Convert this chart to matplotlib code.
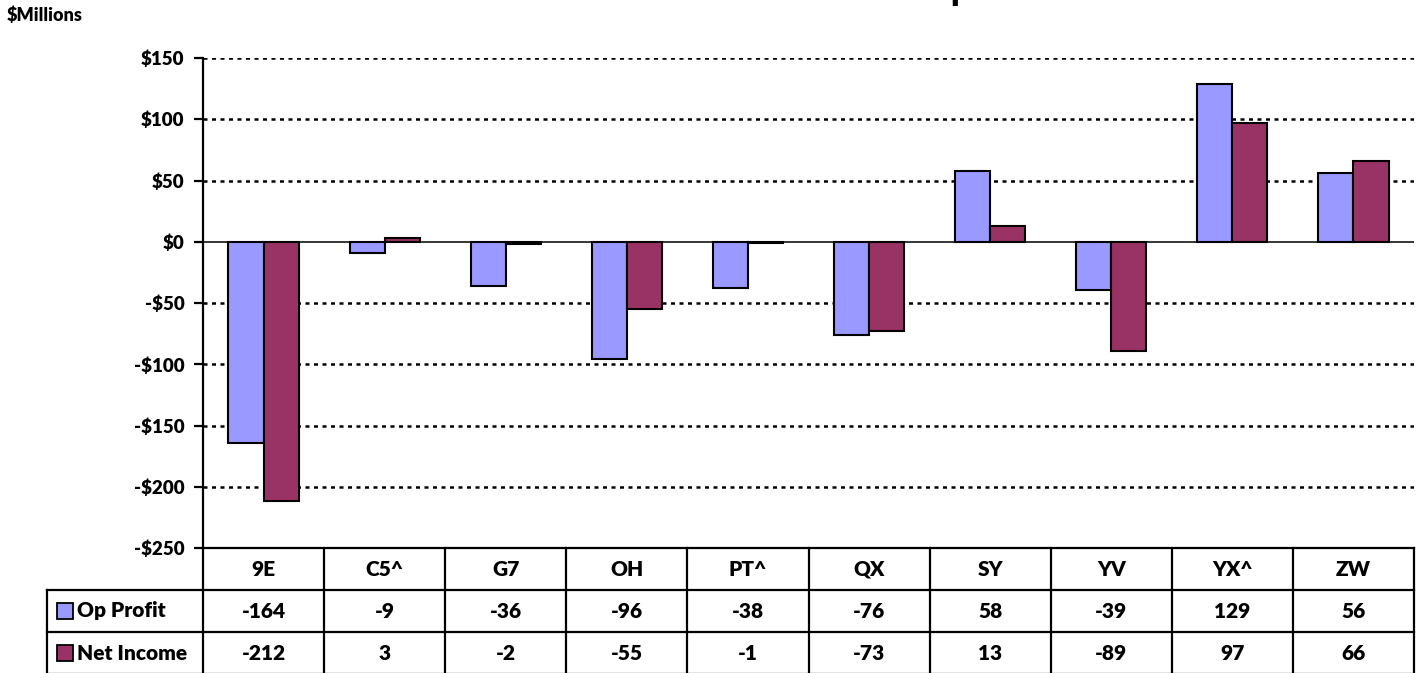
import numpy as np
import matplotlib
matplotlib.use("Agg")
import matplotlib.pyplot as plt

plt.rcParams['font.family'] = ['Lato', 'DejaVu Sans']
wt = 'heavy'
plt.rcParams['font.weight'] = wt

# ----------------- data -----------------
companies = ['9E', 'C5^', 'G7', 'OH', 'PT^', 'QX', 'SY', 'YV', 'YX^', 'ZW']
op_profit = [-164, -9, -36, -96, -38, -76, 58, -39, 129, 56]
net_income = [-212, 3, -2, -55, -1, -73, 13, -89, 97, 66]
series_names = ['Op Profit', 'Net Income']
y_ticks = [-250, -200, -150, -100, -50, 0, 50, 100, 150]

c_op = '#9999FF'
c_ni = '#993366'

W, H = 1421, 673
fig = plt.figure(figsize=(W / 100, H / 100), dpi=100)

# main plot area (pixel layout)
L, R, T, B = 203, 1414, 58, 548
ax = fig.add_axes([L / W, 1 - B / H, (R - L) / W, (B - T) / H])

x = np.arange(len(companies))
bw = 0.29
ax.bar(x - bw / 2, op_profit, bw, color=c_op, edgecolor='black', linewidth=1.5, zorder=3)
ax.bar(x + bw / 2, net_income, bw, color=c_ni, edgecolor='black', linewidth=1.5, zorder=3)

ax.set_xlim(-0.5, len(companies) - 0.5)
ax.set_ylim(-250, 150)
ax.set_yticks(y_ticks)
ax.set_yticklabels([('-$%d' % -v) if v < 0 else ('$%d' % v) for v in y_ticks],
                   fontsize=13.5, fontweight=wt)
ax.set_xticks([])

for v in y_ticks:
    if v != 0:
        ax.axhline(v, color='black', linewidth=1.8, linestyle=(0, (1.6, 1.8)),
                   dash_capstyle='butt', zorder=1)
ax.axhline(0, color='black', linewidth=1.1, zorder=2)

for s in ['top', 'right', 'bottom']:
    ax.spines[s].set_visible(False)
ax.spines['left'].set_linewidth(1.6)
ax.tick_params(axis='y', direction='out', length=6.5, width=1.6, pad=7)

# ----------------- data table -----------------
cw = (R - L) / len(companies)
extra = (L - 47) / cw
tax = fig.add_axes([47 / W, 1 - 674 / H, (R - 47) / W, 126 / H])
tax.set_xlim(-0.5 - extra, len(companies) - 0.5)
tax.set_ylim(3, 0)
tax.axis('off')

lw_t = 1.6
fs_t = 15
x0, x1, xl = -0.5, len(companies) - 0.5, -0.5 - extra
tax.plot([x0, x1], [0, 0], color='black', lw=lw_t, clip_on=False)
for r in [1, 2, 3]:
    tax.plot([xl, x1], [r, r], color='black', lw=lw_t, clip_on=False)
for i in range(len(companies) + 1):
    tax.plot([i - 0.5, i - 0.5], [0, 3], color='black', lw=lw_t, clip_on=False)
tax.plot([xl, xl], [1, 3], color='black', lw=lw_t, clip_on=False)

for i, c in enumerate(companies):
    tax.text(i, 0.5, c, ha='center', va='center', fontsize=fs_t, fontweight=wt)
    tax.text(i, 1.5, str(op_profit[i]), ha='center', va='center', fontsize=fs_t, fontweight=wt)
    tax.text(i, 2.5, str(net_income[i]), ha='center', va='center', fontsize=fs_t, fontweight=wt)

for r, (name, col) in enumerate(zip(series_names, [c_op, c_ni])):
    tax.plot([xl + 0.145], [1.5 + r], marker='s', markersize=11.5, markerfacecolor=col,
             markeredgecolor='black', markeredgewidth=1.3, linestyle='None', clip_on=False)
    tax.text(xl + 0.245, 1.5 + r, name, ha='left', va='center', fontsize=fs_t, fontweight=wt)

# ----------------- texts -----------------
fig.text(7 / W, 1 - 15 / H, '$Millions', ha='left', va='center', fontsize=13, fontweight=wt)
# title sits above the frame; only a descender shows
fig.text(950 / W, 1.0, 'p', ha='left', va='baseline', fontsize=24, fontweight=wt)

fig.savefig('out.png', dpi=100)
